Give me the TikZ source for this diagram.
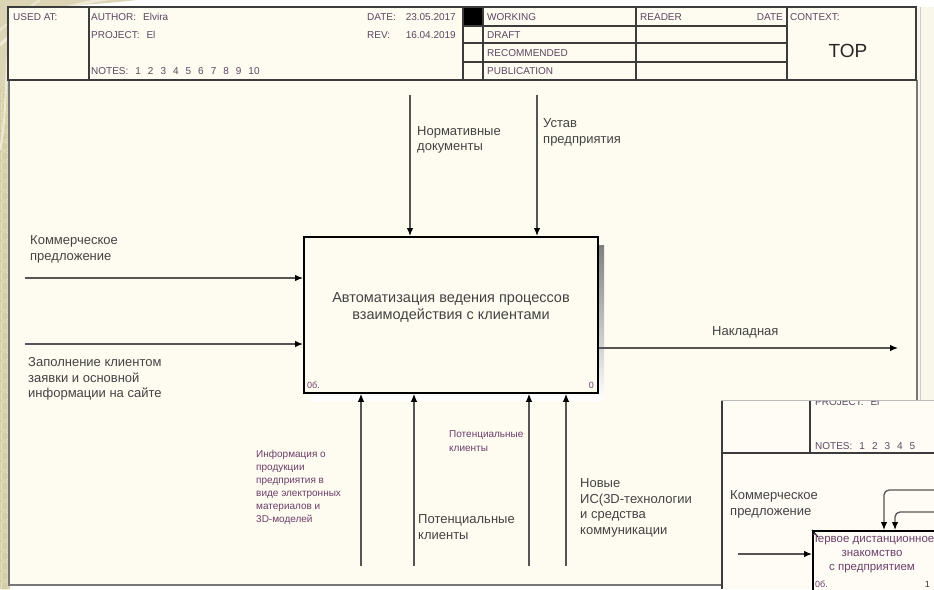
\documentclass[tikz,border=0pt]{standalone}
\usepackage{fontspec}
\setmainfont{Liberation Sans}
\usetikzlibrary{arrows.meta}

\definecolor{paper}{HTML}{FEFBF0}
\definecolor{sidebg}{HTML}{F9F6EA}
\definecolor{insetbg}{HTML}{FEFCF5}
\definecolor{strip}{HTML}{D5CEA8}
\definecolor{stripcell}{HTML}{E9E3C6}
\definecolor{swirl}{HTML}{DCD5B5}
\definecolor{swirllight}{HTML}{EFEAD7}
\definecolor{rule}{HTML}{3C3C3C}
\definecolor{wire}{HTML}{555555}
\definecolor{ink}{HTML}{434343}
\definecolor{plum}{HTML}{6B3F6B}
\definecolor{hdrink}{HTML}{5A4862}
\definecolor{shade}{HTML}{ABABAB}

% wide gap used between the fields of the title block
\newcommand\hgap{\hspace{7pt}}
\newcommand\notelist{NOTES:\hgap 1\hgap 2\hgap 3\hgap 4\hgap 5\hgap 6\hgap 7\hgap 8\hgap 9\hgap 10}

\tikzset{
  hdr/.style={font=\fontsize{10}{12}\selectfont, text=hdrink, inner sep=0pt},
  lbl/.style={font=\fontsize{13}{15.5}\selectfont, text=ink, inner sep=0pt, align=left},
  note/.style={font=\fontsize{10}{13}\selectfont, text=plum, inner sep=0pt, align=left},
  tiny/.style={font=\fontsize{9}{10}\selectfont, text=plum, inner sep=0pt},
  rulebold/.style={draw=rule, line width=1.4pt},
  wireline/.style={draw=wire, line width=1.3pt},
  flow/.style={wireline, -{Latex[length=8pt,width=6.5pt,color=black]}},
  actbox/.style={draw=black, line width=1.8pt, fill=paper, inner sep=0pt},
}

\begin{document}
\begin{tikzpicture}[x=1pt,y=-1pt]
\useasboundingbox (0,0) rectangle (934,589);

% slide backdrop
\fill[white] (0,0) rectangle (934,589);
\fill[sidebg] (917,7) rectangle (934,589);
\draw[gray!40, line width=0.8pt] (920,7) -- (920,589);

% ornamental border on the left
\fill[swirl] (0,0) -- (138,0) .. controls (100,4) and (60,7) .. (30,7) -- (10,7) -- (10,589) -- (0,589) -- cycle;
\fill[strip] (0,90) rectangle (10,589);
\foreach \k in {0,...,49}
  \draw[stripcell, line width=0.8pt, rounded corners=1pt] (1.5,92+\k*10) rectangle (8,100+\k*10);
\draw[swirllight, line width=3pt] (0,45) .. controls (25,20) and (60,6) .. (112,-2);
\draw[swirllight, line width=2pt] (0,150) .. controls (8,110) and (4,70) .. (10,40);
\draw[swirllight!80!swirl, line width=2pt] (40,0) .. controls (25,10) and (12,20) .. (0,30);

% sheet
\fill[paper] (9,7) rectangle (917,585);
\draw[wire!80, line width=1.3pt] (9,80) -- (9,585) -- (917,585) -- (917,80);

% title block
\fill[black] (463,7) rectangle (483,26);
\draw[rulebold] (8,7) rectangle (916,80);
\foreach \xx in {89,463,483,636,787}
  \draw[rulebold] (\xx,7) -- (\xx,80);
\foreach \yy in {26,43,62}
  \draw[rulebold] (463,\yy) -- (787,\yy);

\node[hdr, anchor=base west] (usedat) at (13,20) {USED AT:};
\node[hdr, anchor=base west] (author) at (91,20) {AUTHOR:\hgap Elvira};
\node[hdr, anchor=base west] (project) at (91,38) {PROJECT:\hgap El};
\node[hdr, anchor=base west] (notes) at (91,74) {\notelist};
\node[hdr, anchor=base west] (datekey) at (367,20) {DATE:};
\node[hdr, anchor=base east] (dateval) at (456,20) {23.05.2017};
\node[hdr, anchor=base west] (revkey) at (367,38) {REV:};
\node[hdr, anchor=base east] (revval) at (456,38) {16.04.2019};
\node[hdr, anchor=base west] (working) at (487,20) {WORKING};
\node[hdr, anchor=base west] (draft) at (487,38) {DRAFT};
\node[hdr, anchor=base west] (recommended) at (487,56) {RECOMMENDED};
\node[hdr, anchor=base west] (publication) at (487,74) {PUBLICATION};
\node[hdr, anchor=base west] (reader) at (640,20) {READER};
\node[hdr, anchor=base east] (readerdate) at (783,20) {DATE};
\node[hdr, anchor=base west] (context) at (790,20) {CONTEXT:};
\node[font=\fontsize{19}{22}\selectfont, text=black!85, inner sep=0pt, anchor=base] (top) at (848,57) {TOP};

% activity box with its shadow
\fill[shade] (310,245) rectangle (604,400);
\node[actbox, minimum width=294pt, minimum height=156pt, anchor=north west] (act) at (303,236) {};
\node[font=\fontsize{14.5}{17}\selectfont, text=ink, align=center, inner sep=0pt, anchor=north] (acttitle) at (451,292.5)
  {Автоматизация ведения процессов\\взаимодействия с клиентами};
\node[tiny, anchor=base west] (actcost) at (307,388) {0б.};
\node[tiny, anchor=base east] (actnum) at (594,388) {0};

% free ends of the arrows
\coordinate (in1) at (25,278);
\coordinate (in2) at (25,344);
\coordinate (ctl1) at (410,95);
\coordinate (ctl2) at (537,95);
\coordinate (out1) at (898,348);
\coordinate (mec1) at (361,566);
\coordinate (mec2) at (414,566);
\coordinate (mec3) at (529,566);
\coordinate (mec4) at (566,566);

% inputs
\draw[flow] (in1) -- (in1 -| act.west);
\draw[flow] (in2) -- (in2 -| act.west);
% controls
\draw[flow] (ctl1) -- (ctl1 |- act.north);
\draw[flow] (ctl2) -- (ctl2 |- act.north);
% output
\draw[flow] (act.east |- out1) -- (out1);
% mechanisms
\draw[flow] (mec1) -- (mec1 |- act.south);
\draw[flow] (mec2) -- (mec2 |- act.south);
\draw[flow] (mec3) -- (mec3 |- act.south);
\draw[flow] (mec4) -- (mec4 |- act.south);

% arrow labels
\node[lbl, anchor=north west] (offer) at (30,235.5) {Коммерческое\\предложение};
\node[lbl, anchor=north west] (request) at (28,357.5) {Заполнение клиентом\\заявки и основной\\информации на сайте};
\node[lbl, anchor=north west] (norms) at (417,126) {Нормативные\\документы};
\node[lbl, anchor=north west] (charter) at (543,118.5) {Устав\\предприятия};
\node[lbl, anchor=base west] (invoice) at (712,335) {Накладная};
\node[note, anchor=north west] (catalogue) at (256,449.8) {Информация о\\продукции\\предприятия в\\виде электронных\\материалов и\\3D-моделей};
\node[note, anchor=north west, font=\fontsize{10}{14}\selectfont] (prospects) at (449,430.8) {Потенциальные\\клиенты};
\node[lbl, anchor=north west] (prospectsb) at (418,514.7) {Потенциальные\\клиенты};
\node[lbl, anchor=north west] (newtech) at (580,478.7) {Новые\\ИС(3D-технологии\\и средства\\коммуникации};

% child diagram shown on top of the sheet
\begin{scope}
  \clip (721,400) rectangle (934,589);
  \fill[insetbg] (721,400) rectangle (934,589);
  \draw[rulebold] (722,400) -- (722,589);
  \draw[rulebold] (810,400) -- (810,453);
  \draw[rulebold] (722,453) -- (934,453);
  \node[hdr, anchor=base west] (iproject) at (815,405) {PROJECT:\hgap El};
  \node[hdr, anchor=base west] (inotes) at (815,449) {NOTES:\hgap 1\hgap 2\hgap 3\hgap 4\hgap 5};
  \node[lbl, anchor=north west] (ioffer) at (730,490.5) {Коммерческое\\предложение};
  \node[draw=black, line width=1.5pt, fill=insetbg, minimum width=150pt, minimum height=80pt,
        anchor=north west, inner sep=0pt] (sub1) at (812,530) {};
  \draw[black, line width=1pt] (sub1.north west) -- ++(6,7);
  \begin{scope}
    \clip (813,531) rectangle (934,589);
    \node[note, font=\fontsize{11.5}{14}\selectfont, align=center, anchor=north] (sub1title) at (872,534.5)
      {Первое дистанционное\\знакомство\\с предприятием};
  \end{scope}
  \node[tiny, anchor=base west] (sub1cost) at (815,587) {0б.};
  \node[tiny, anchor=base east, text=black!80] (sub1num) at (930,587) {1};
  \coordinate (ic1) at (934,490);
  \coordinate (ic2) at (934,512);
  \coordinate (ic1x) at (884,0);
  \coordinate (ic2x) at (895,0);
  \coordinate (ii1) at (738,554);
  \draw[flow, rounded corners=5pt] (ic1) -| (sub1.north west -| ic1x);
  \draw[flow, rounded corners=5pt] (ic2) -| (sub1.north west -| ic2x);
  \draw[flow] (ii1) -- (ii1 -| sub1.west);
\end{scope}
\draw[gray!55, line width=1pt] (721,400) -- (934,400);

\end{tikzpicture}
\end{document}
